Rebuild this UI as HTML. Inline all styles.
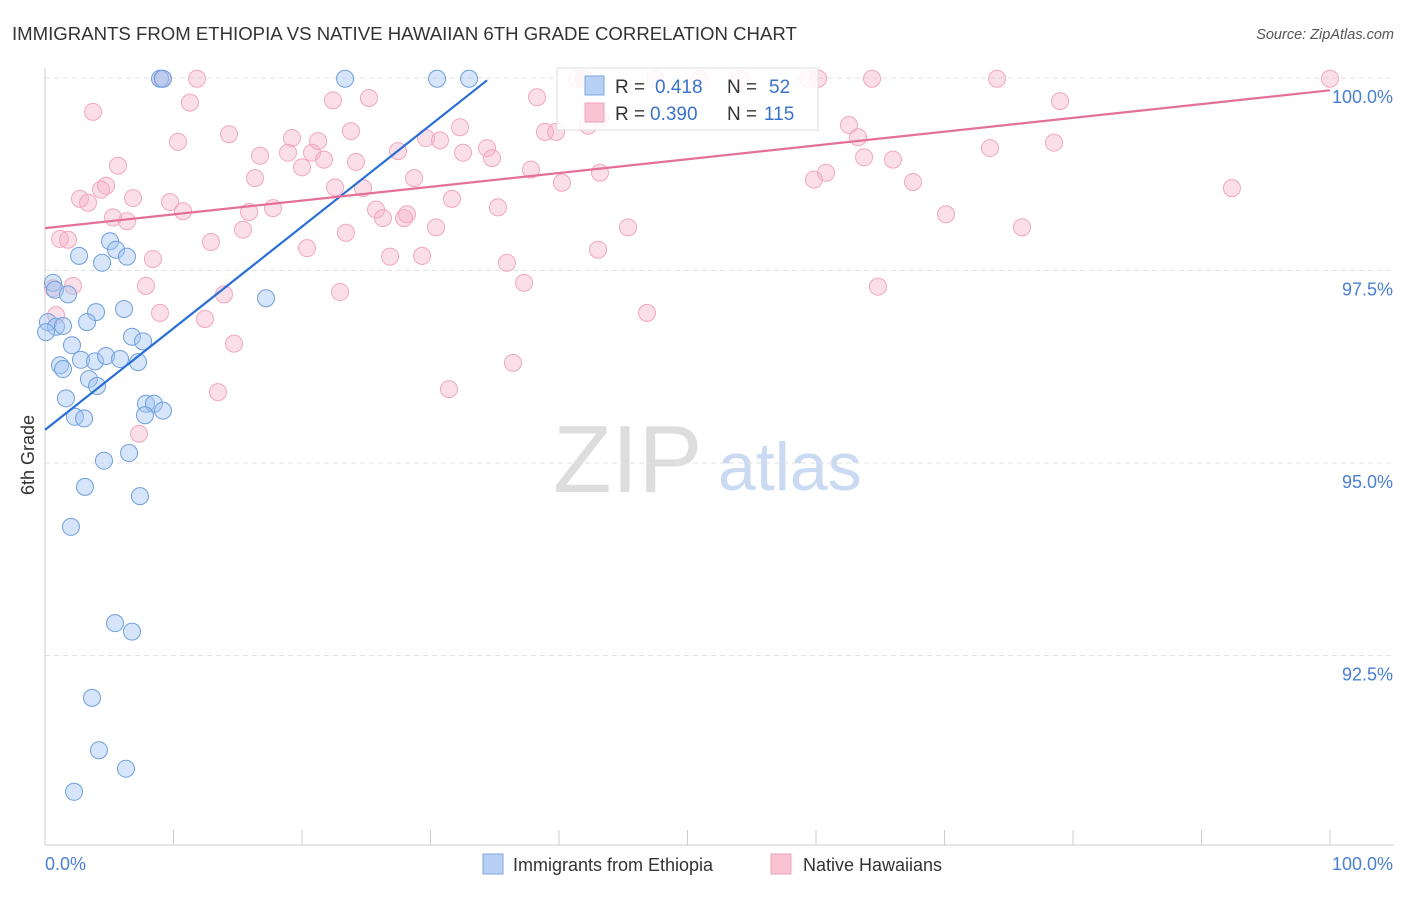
<!DOCTYPE html>
<html><head><meta charset="utf-8">
<style>
body{margin:0;background:#fff;font-family:"Liberation Sans",sans-serif;}
svg text{font-family:"Liberation Sans",sans-serif;}
</style></head>
<body>
<svg id="chart" width="1406" height="892" viewBox="0 0 1406 892" xmlns="http://www.w3.org/2000/svg">
<text x="12" y="40" font-size="18.6" fill="#333">IMMIGRANTS FROM ETHIOPIA VS NATIVE HAWAIIAN 6TH GRADE CORRELATION CHART</text>
<text x="1394" y="39" font-size="14.5" fill="#555" font-style="italic" text-anchor="end">Source: ZipAtlas.com</text>
<text x="0" y="0" font-size="18" fill="#333" transform="translate(34,455) rotate(-90)" text-anchor="middle">6th Grade</text>
<g>
<text x="553" y="492" font-size="96" fill="#ddd" font-family="Liberation Serif">ZIP</text>
<text x="718" y="490" font-size="68" fill="#c9daf2">atlas</text>
</g>
<g id="grid"></g>
<g id="axes"></g>
<g id="marks"></g>
<g>
<rect x="557" y="68" width="261" height="62" fill="#fff" fill-opacity="0.85" stroke="#ddd"/>
<rect x="585" y="76" width="19" height="19" fill="#b8d0f4" stroke="#7aa8e0"/>
<text x="615" y="93" font-size="19" fill="#333">R =</text>
<text x="655" y="93" font-size="19" fill="#3a72cc">0.418</text>
<text x="727" y="93" font-size="19" fill="#333">N =</text>
<text x="769" y="93" font-size="19" fill="#3a72cc">52</text>
<rect x="585" y="103" width="19" height="19" fill="#f8c4d4" stroke="#f0a0bc"/>
<text x="615" y="120" font-size="19" fill="#333">R =</text>
<text x="650" y="120" font-size="19" fill="#3a72cc">0.390</text>
<text x="727" y="120" font-size="19" fill="#333">N =</text>
<text x="764" y="120" font-size="19" fill="#3a72cc">115</text>
</g>
<g>
<rect x="483" y="854" width="20" height="20" fill="#b8d0f4" stroke="#7aa8e0"/>
<text x="513" y="871" font-size="18" fill="#333">Immigrants from Ethiopia</text>
<rect x="771" y="854" width="20" height="20" fill="#f8c4d4" stroke="#f0a0bc"/>
<text x="803" y="871" font-size="18" fill="#333">Native Hawaiians</text>
</g>
</svg>
<script>
const blueX=[8.95,9.18,23.35,30.51,33.0,5.06,5.53,2.65,4.44,6.38,0.62,0.78,1.79,17.2,3.97,6.15,0.23,0.86,1.4,3.27,0.08,6.77,7.63,2.1,1.17,1.4,2.8,3.89,4.75,5.84,7.24,3.42,4.05,1.63,7.86,8.48,9.18,7.78,2.33,3.04,6.54,4.59,3.11,7.39,2.02,5.45,6.77,3.66,4.2,6.3,2.26];
const blueY=[99.99,99.99,99.99,99.99,99.99,97.88,97.77,97.69,97.6,97.68,97.34,97.25,97.19,97.14,96.96,97.0,96.83,96.77,96.78,96.83,96.7,96.64,96.58,96.53,96.27,96.22,96.34,96.32,96.39,96.35,96.31,96.09,96.0,95.84,95.77,95.77,95.68,95.62,95.6,95.58,95.13,95.03,94.69,94.57,94.17,92.92,92.81,91.95,91.27,91.03,90.73];
const pinkX=[9.1,11.83,41.4,41.95,47.47,50.97,54.09,59.38,60.16,64.36,74.09,100,3.74,11.28,22.41,25.21,38.29,78.99,10.35,14.32,19.22,21.25,23.81,32.3,29.65,30.74,34.4,38.91,39.77,42.26,43.19,62.57,63.27,78.52,73.54,5.68,16.73,18.91,20.78,21.71,24.2,27.47,32.53,34.79,37.82,43.19,63.74,65.99,20.0,16.34,28.72,40.23,59.84,60.78,67.55,92.37,2.72,3.35,4.75,4.36,6.85,9.73,10.74,15.88,17.74,22.57,24.75,25.76,26.3,27.94,28.17,31.67,35.25,70.12,6.38,5.29,15.41,12.92,23.42,20.39,30.43,45.37,76.03,1.17,1.79,8.4,26.85,29.34,35.95,43.04,7.86,2.18,0.62,13.93,22.96,37.28,64.82,0.86,8.95,12.45,14.71,46.85,36.42,13.46,31.44,7.32];
const pinkY=[99.99,99.99,99.99,99.99,99.99,99.99,99.99,99.99,99.99,99.99,99.99,99.99,99.56,99.68,99.71,99.74,99.75,99.70,99.17,99.27,99.22,99.18,99.31,99.36,99.22,99.19,99.09,99.3,99.3,99.38,99.47,99.39,99.23,99.16,99.09,98.86,98.99,99.03,99.03,98.94,98.91,99.05,99.03,98.96,98.81,98.77,98.97,98.94,98.84,98.7,98.7,98.64,98.68,98.77,98.65,98.57,98.43,98.38,98.6,98.55,98.44,98.39,98.27,98.26,98.31,98.58,98.57,98.29,98.18,98.18,98.23,98.43,98.32,98.23,98.14,98.19,98.03,97.87,97.99,97.79,98.06,98.06,98.06,97.91,97.9,97.65,97.68,97.69,97.6,97.77,97.3,97.3,97.27,97.19,97.22,97.34,97.29,96.92,96.95,96.87,96.55,96.95,96.3,95.92,95.96,95.38];
const blueLineX=[0,34.4];
const blueLineY=[95.43,99.97];
const pinkLineX=[0,100];
const pinkLineY=[98.05,99.84];
const yTicks=[100,97.5,95,92.5];
const yTickLabels=["100.0%","97.5%","95.0%","92.5%"];
const xEnds=["0.0%","100.0%"];

const NS="http://www.w3.org/2000/svg";
const sx=v=>45+v*12.85;
const sy=v=>78+(100-v)*77;
function mk(tag,attrs,parent){const e=document.createElementNS(NS,tag);for(const k in attrs)e.setAttribute(k,attrs[k]);parent.appendChild(e);return e;}
const grid=document.getElementById('grid'),axes=document.getElementById('axes'),marks=document.getElementById('marks');
yTicks.forEach((t,i)=>{
  const l=mk('line',{x1:45,x2:1394,y1:sy(t),y2:sy(t),stroke:'#e2e2e2','stroke-dasharray':'5,4'},grid);
  
  
  const tx=mk('text',{x:1393,y:sy(t)+25,'font-size':18,fill:'#4a7fd0','text-anchor':'end'},axes);
  tx.textContent=yTickLabels[i];
  
  
});
const xa=mk('line',{x1:45,x2:1394,y1:845,y2:845,stroke:'#ccc'},axes);


const ya=mk('line',{x1:45,x2:45,y1:68,y2:845,stroke:'#ccc'},axes);


for(let i=0;i<=10;i++){
  const t=mk('line',{x1:sx(i*10),x2:sx(i*10),y1:830,y2:845,stroke:'#ccc'},axes);
  
  
}
const xl0=mk('text',{x:45,y:870,'font-size':18,fill:'#4a7fd0'},axes);xl0.textContent=xEnds[0];


const xl1=mk('text',{x:1393,y:870,'font-size':18,fill:'#4a7fd0','text-anchor':'end'},axes);xl1.textContent=xEnds[1];


pinkX.forEach((x,i)=>{
  const c=mk('circle',{cx:sx(x),cy:sy(pinkY[i]),r:8.5,fill:'rgba(246,175,198,0.4)',stroke:'#f2a6c0','stroke-width':1},marks);
  
  
});
blueX.forEach((x,i)=>{
  const c=mk('circle',{cx:sx(x),cy:sy(blueY[i]),r:8.5,fill:'rgba(165,198,242,0.45)',stroke:'#6f9fdc','stroke-width':1},marks);
  
  
});
const bl=mk('line',{x1:sx(blueLineX[0]),y1:sy(blueLineY[0]),x2:sx(blueLineX[1]),y2:sy(blueLineY[1]),stroke:'#2a6fd6','stroke-width':2.2},marks);


const pl=mk('line',{x1:sx(pinkLineX[0]),y1:sy(pinkLineY[0]),x2:sx(pinkLineX[1]),y2:sy(pinkLineY[1]),stroke:'#e4709a','stroke-width':2.2},marks);


</script>
</body></html>
